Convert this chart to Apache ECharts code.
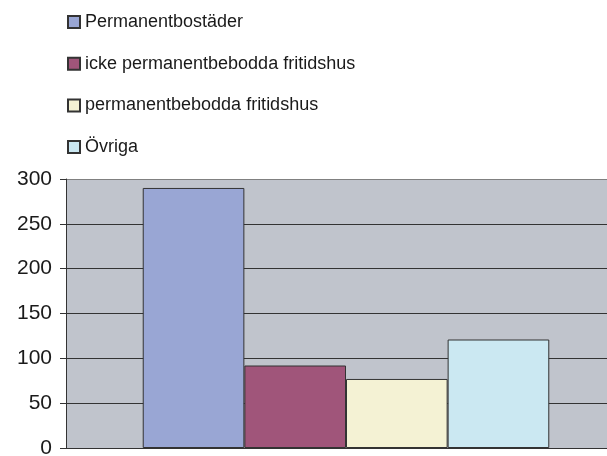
<!DOCTYPE html>
<html>
<head>
<meta charset="utf-8">
<script src="https://cdn.jsdelivr.net/npm/echarts@6/dist/echarts.min.js"></script>
<style>
  html, body { margin: 0; padding: 0; background: #fff; }
  #chart { width: 607px; height: 456px; }
</style>
</head>
<body>
<div id="chart"></div>
<script>
// ---------------------------------- data ----------------------------------
let seriesNames = ['Permanentbostäder', 'icke permanentbebodda fritidshus', 'permanentbebodda fritidshus', 'Övriga']
let seriesValues = [290, 92, 77, 121]
let seriesColors = ['#99a6d4', '#a0557a', '#f4f2d4', '#cbe8f2']
let categories = ['']
let yTicks = [0, 50, 100, 150, 200, 250, 300]

// ---------------------------------- chart ---------------------------------
var myChart = echarts.init(document.getElementById('chart'));

let series = seriesNames.map((name, i) => {
  return {
    name: name,
    type: 'bar',
    barGap: 0,
    barCategoryGap: '27.4%',
    data: [seriesValues[i]],
    itemStyle: { color: seriesColors[i], borderColor: '#333', borderWidth: 1 }
  }
})

myChart.setOption({
  animation: false,
  textStyle: { fontFamily: 'Liberation Sans, Arial, sans-serif' },
  legend: {
    orient: 'vertical',
    left: 67,
    top: 12,
    padding: 0,
    itemWidth: 12,
    itemHeight: 12,
    itemGap: 21.7,
    icon: 'rect',
    textStyle: { fontSize: 18, color: '#1a1a1a', lineHeight: 20 },
    data: seriesNames
  },
  // plot area runs past the right edge of the picture
  grid: {
    left: 66,
    top: 179,
    right: -19,
    bottom: 8,
    outerBoundsMode: 'none',
    containLabel: false,
    show: true,
    backgroundColor: '#c0c4cc',
    borderWidth: 0
  },
  xAxis: {
    type: 'category',
    data: categories,
    axisLine: { show: true, lineStyle: { color: '#333', width: 1 } },
    axisTick: { show: false },
    axisLabel: { show: false }
  },
  yAxis: {
    type: 'value',
    min: yTicks[0],
    max: yTicks[yTicks.length - 1],
    interval: 50,
    axisLine: { show: true, lineStyle: { color: '#333', width: 1 } },
    axisTick: { show: true, length: 6, lineStyle: { color: '#333' } },
    axisLabel: { fontSize: 21, color: '#1a1a1a', margin: 14 },
    splitLine: {
      show: true,
      lineStyle: { color: ['#333', '#333', '#333', '#333', '#333', '#333', '#808080'], width: 1 }
    }
  },
  series: series
});
</script>
</body>
</html>
